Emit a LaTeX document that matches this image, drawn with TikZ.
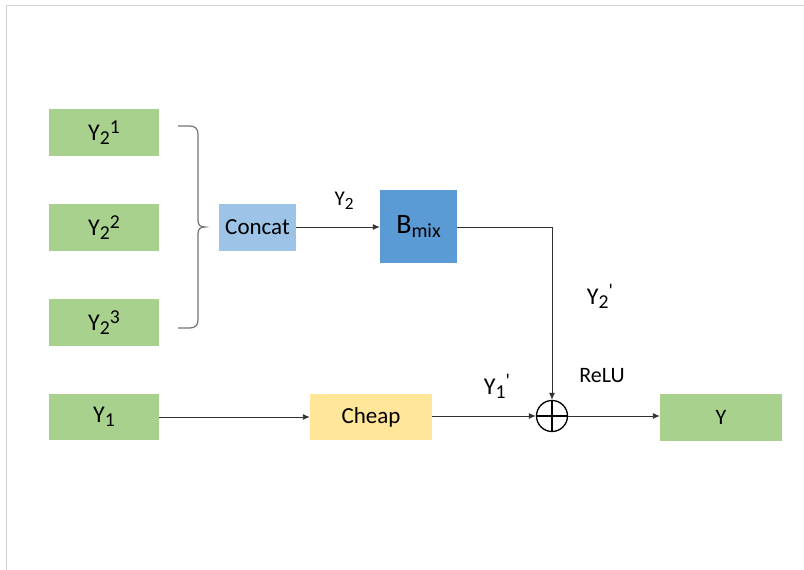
\documentclass[tikz,border=0pt]{standalone}
\usepackage{fontspec}
\setmainfont{Carlito}
\usetikzlibrary{arrows.meta}
\definecolor{grn}{HTML}{A9D18E}
\definecolor{lblue}{HTML}{9DC3E6}
\definecolor{mblue}{HTML}{5B9BD5}
\definecolor{ylw}{HTML}{FFE699}
\definecolor{lnc}{HTML}{303030}
\definecolor{frm}{HTML}{D0D0D0}
\newcommand{\mysb}[1]{\raisebox{-0.35ex}{\scalebox{0.82}{#1}}}
\newcommand{\mysp}[1]{\raisebox{0.62ex}{\scalebox{0.82}{#1}}}
\newcommand{\myprime}{\textquotesingle}
\begin{document}
\begin{tikzpicture}[x=1pt,y=-1pt,
  box/.style={draw=none,inner sep=0pt,font=\fontsize{24}{26}\selectfont},
  gbox/.style={box,fill=grn,minimum width=110pt,minimum height=47pt},
  arr/.style={draw=lnc,line width=0.9pt,-{Latex[length=7pt,width=6pt]}},
  lbl/.style={inner sep=0pt,font=\fontsize{21}{23}\selectfont}]
\useasboundingbox (0,0) rectangle (804,570);
\draw[frm,line width=1pt] (6,570) -- (6,5) -- (804,5);
\node[gbox] (y21) at (104,132.5) {Y\mysb{2}\mysp{1}};
\node[gbox] (y22) at (104,227.5) {Y\mysb{2}\mysp{2}};
\node[gbox] (y23) at (104,322.5) {Y\mysb{2}\mysp{3}};
\node[box,fill=lblue,minimum width=77pt,minimum height=47pt,font=\fontsize{23}{25}\selectfont] (concat) at (257.5,227) {Concat};
\node[box,fill=mblue,minimum width=77pt,minimum height=73pt,font=\fontsize{28}{30}\selectfont] (bmix) at (418.5,226.5) {B\raisebox{-0.3ex}{\fontsize{20}{22}\selectfont mix}};
\node[gbox,minimum height=46pt] (y1) at (104,417) {Y\mysb{1}};
\node[box,fill=ylw,minimum width=122pt,minimum height=46pt,font=\fontsize{23}{25}\selectfont] (cheap) at (371,417) {Cheap};
\node[gbox,minimum width=122pt,font=\fontsize{22}{24}\selectfont] (y) at (721,417.5) {Y};
\node[circle,draw=black,line width=1.3pt,minimum size=31pt,inner sep=0pt] (plus) at (552,416) {};
\draw[black,line width=1.3pt] (plus.north) -- (plus.south) (plus.west) -- (plus.east);
% brace
\draw[gray!90!black,line width=1.2pt] (178,126) -- (190,126) .. controls (195,126) and (198,129) .. (198,134) -- (198,220) .. controls (198,225) and (200,227) .. (205,227) .. controls (200,227) and (198,229) .. (198,234) -- (198,320) .. controls (198,325) and (195,328) .. (190,328) -- (178,328);
% connectors
\draw[arr] (concat.east) -- (concat.east -| bmix.west);
\draw[arr] (bmix.east |- concat.east) -| (plus.north);
\draw[arr] (y1.east) -- (cheap.west);
\draw[arr] (cheap.east |- plus.west) -- (plus.west);
\draw[arr] (plus.east) -- (plus.east -| y.west);
% labels
\node[lbl] (ly2) at (344,201) {Y\mysb{2}};
\node[lbl,font=\fontsize{24}{26}\selectfont] (ly2p) at (600,296) {Y\mysb{2}\mysp{\myprime}};
\node[lbl,font=\fontsize{22}{24}\selectfont] (relu) at (602,376) {ReLU};
\node[lbl,font=\fontsize{24}{26}\selectfont] (ly1p) at (497,386) {Y\mysb{1}\mysp{\myprime}};
\end{tikzpicture}
\end{document}
